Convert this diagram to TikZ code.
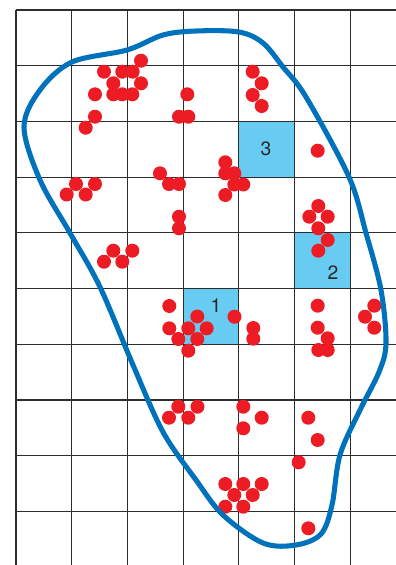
\documentclass[tikz,border=0pt]{standalone}
\usepackage{fontspec}
\setmainfont{TeX Gyre Heros}
\begin{document}
\begin{tikzpicture}[x=0.75pt,y=-0.75pt,
	gridline/.style={color={rgb,255:red,45; green,45; blue,45}, line width=0.9pt},
	cellbox/.style={fill={rgb,255:red,104; green,204; blue,242}, draw=none},
	reddot/.style={fill={rgb,255:red,237; green,28; blue,36}, draw=none},
	boundary/.style={color={rgb,255:red,0; green,114; blue,188}, line width=3.8pt},
	celllabel/.style={font=\fontsize{14.5}{17}\selectfont, text={rgb,255:red,40; green,40; blue,40}, inner sep=0pt}]
	\useasboundingbox (0,0) rectangle (396,565);
	% highlighted cells
	\draw [cellbox] (183.1,288.5) rectangle (238.8,344.2);
	\draw [cellbox] (294.5,232.8) rectangle (350.2,288.5);
	\draw [cellbox] (238.8,121.4) rectangle (294.5,177.1);
	% grid
	\foreach \i in {0,...,6}
		\draw [gridline] (16+\i*55.7,10) -- (16+\i*55.7,566);
	\foreach \j in {0,...,9}
		\draw [gridline] (16,10+\j*55.7) -- (397,10+\j*55.7);
	% cell numbers
	\node [celllabel] (one) at (216,306) {1};
	\node [celllabel] (two) at (333,273) {2};
	\node [celllabel] (three) at (266,149) {3};
	% points
	\foreach \px/\py in {141/60.7, 104/71.7, 122.3/71.7, 132.7/71.7, 113.3/83.3, 141/83.3,
		95/94.3, 113.3/94.3, 122.3/94.3, 132.3/94.3, 187.3/94.3, 95/116.7, 179/116.7, 188.3/116.7,
		85.7/127.7, 160/173.3, 169/184, 179/184, 76/184, 95/184, 66.7/194.5, 85.7/194.5,
		252.7/71.7, 261.7/83.3, 252.7/95, 261.7/106, 317.7/150.7,
		225.3/162.3, 225.3/173.3, 234.3/173.3, 243.3/184.5, 234.3/184.5, 225.3/195,
		179/216.7, 179/228.3,
		113.3/250.7, 132.3/250.7, 104/261.7, 122.3/261.7,
		169.3/306, 197.3/316.5, 169.3/328.3, 188.3/328.3, 206.7/328.3, 178.3/339, 197.3/339, 188.3/350.7,
		234.5/316.7, 253.3/328, 253.3/338.7,
		318.3/206, 309.3/216.7, 327.7/216.7, 318.3/228.3, 327.7/240, 318.3/250.7,
		317.7/305.7, 317.7/327.7, 327.7/338.3, 318.3/350, 327.7/350,
		374.3/305.7, 365/316.7, 374.3/327.7,
		178.3/406.7, 197.5/406.7, 169/417.7, 188.3/417.7,
		243.3/406.7, 261.7/417.7, 243.3/428.3, 308.3/417.7, 317.7/440, 298.7/462.3,
		225.3/484, 243.3/484, 261.7/484, 234.3/495, 252.7/495, 225.3/506.7, 243.3/506.7,
		308.3/528.3}
		\fill [reddot] (\px,\py) circle (7);
	% region outline
	\draw [boundary] plot [smooth cycle, tension=0.55] coordinates {
		(72,62) (127,50) (163,35) (196,31) (239,32) (263,43) (283,67) (306,97)
		(349,177) (366,233) (381,290) (386,343) (379,372) (360,410)
		(340,455) (332,505) (321,534) (296,545) (263,543) (223,515) (196,480)
		(163,432) (133,365) (100,287) (70,233) (40,180) (24,127) (40,90)};
\end{tikzpicture}
\end{document}
